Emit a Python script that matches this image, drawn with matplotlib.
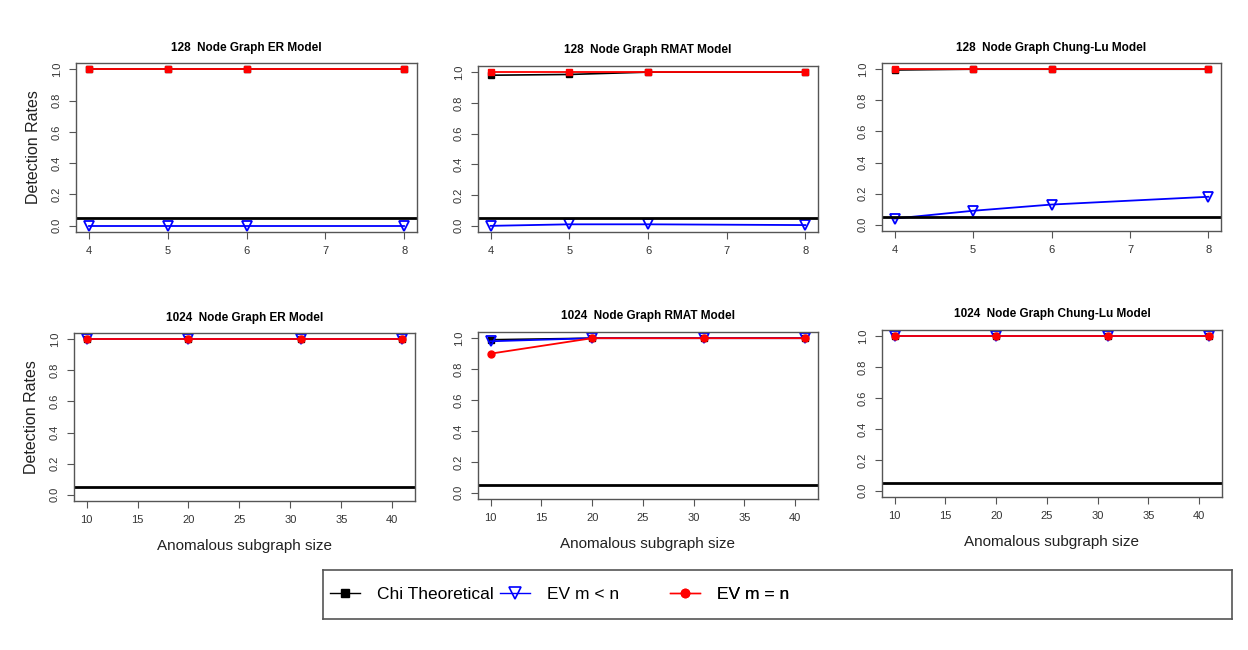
import matplotlib
matplotlib.use("Agg")
import matplotlib.pyplot as plt
from matplotlib.lines import Line2D

plt.rcParams['font.family'] = ['Liberation Sans', 'DejaVu Sans']

# subgraph sizes
x_small = [4, 5, 6, 8]
x_large = [10, 20, 31, 41]

titles = ["128  Node Graph ER Model", "128  Node Graph RMAT Model", "128  Node Graph Chung-Lu Model",
          "1024  Node Graph ER Model", "1024  Node Graph RMAT Model", "1024  Node Graph Chung-Lu Model"]

# detection rates per panel
chi = [[1.0, 1.0, 1.0, 1.0],
       [0.98, 0.985, 1.0, 1.0],
       [0.995, 1.0, 1.0, 1.0],
       [1.0, 1.0, 1.0, 1.0],
       [0.99, 1.0, 1.0, 1.0],
       [1.0, 1.0, 1.0, 1.0]]
ev_less = [[0.0, 0.0, 0.0, 0.0],
           [0.0, 0.01, 0.01, 0.005],
           [0.04, 0.09, 0.13, 0.18],
           [1.0, 1.0, 1.0, 1.0],
           [0.98, 1.0, 1.0, 1.0],
           [1.0, 1.0, 1.0, 1.0]]
ev_equal = [[1.0, 1.0, 1.0, 1.0],
            [1.0, 1.0, 1.0, 1.0],
            [1.0, 1.0, 1.0, 1.0],
            [1.0, 1.0, 1.0, 1.0],
            [0.9, 1.0, 1.0, 1.0],
            [1.0, 1.0, 1.0, 1.0]]
alpha_level = 0.05
legend_labels = ["Chi Theoretical", "EV m < n", "EV m = n"]

W, H = 1248, 650
# panel boxes in pixels: left, right, top, bottom
boxes = [(76, 417, 63, 232), (478, 818, 66, 232), (882, 1221, 63, 231),
         (74, 415, 333, 501), (478, 818, 332, 499), (882, 1222, 330, 497)]

frame_col = "#555555"

fig = plt.figure(figsize=(W / 100, H / 100), dpi=100)

for i, (l, r, t, b) in enumerate(boxes):
    ax = fig.add_axes([l / W, 1 - b / H, (r - l) / W, (b - t) / H])
    xs = x_small if i < 3 else x_large
    red_marker = "s" if i < 3 else "o"

    ax.plot(xs, chi[i], color="black", lw=1.2, marker="s", ms=4.5)
    ax.plot(xs, ev_less[i], color="blue", lw=1.3, marker="v", ms=6.5,
            mfc="none", mec="blue", mew=1.3)
    ax.plot(xs, ev_equal[i], color="red", lw=1.3, marker=red_marker, ms=5)
    ax.axhline(alpha_level, color="black", lw=2)

    span = xs[-1] - xs[0]
    ax.set_xlim(xs[0] - 0.04 * span, xs[-1] + 0.04 * span)
    ax.set_ylim(-0.04, 1.04)
    ax.set_yticks([0.0, 0.2, 0.4, 0.6, 0.8, 1.0])
    ax.set_yticklabels(["0.0", "0.2", "0.4", "0.6", "0.8", "1.0"], rotation=90, va="center")
    if i < 3:
        ax.set_xticks([4, 5, 6, 7, 8])
    else:
        ax.set_xticks([10, 15, 20, 25, 30, 35, 40])

    ax.tick_params(labelsize=8, length=5, width=0.8, color=frame_col, labelcolor="#333333", pad=5)
    for sp in ax.spines.values():
        sp.set_color(frame_col)
        sp.set_linewidth(1.0)

    ax.set_title(titles[i], fontsize=8.5, fontweight="bold", pad=9)
    if i % 3 == 0:
        ax.set_ylabel("Detection Rates", fontsize=11.5, color="#222222", labelpad=8)
    if i >= 3:
        ax.set_xlabel("Anomalous subgraph size", fontsize=11, color="#222222", labelpad=10)

# legend box
lx0, lx1, ly0, ly1 = 323, 1232, 570, 619
lax = fig.add_axes([lx0 / W, 1 - ly1 / H, (lx1 - lx0) / W, (ly1 - ly0) / H])
lax.set_xticks([])
lax.set_yticks([])
for sp in lax.spines.values():
    sp.set_color(frame_col)
    sp.set_linewidth(1.2)

handles = [Line2D([], [], color="black", lw=1.0, marker="s", ms=6),
           Line2D([], [], color="blue", lw=1.0, marker="v", ms=8, mfc="none", mew=1.2),
           Line2D([], [], color="red", lw=1.0, marker="o", ms=6)]
col_starts = [330, 500, 670]
for h, lab, cx in zip(handles, legend_labels, col_starts):
    leg = lax.legend([h], [lab], loc="center left",
                     bbox_to_anchor=((cx - lx0) / (lx1 - lx0), 0.5),
                     frameon=False, fontsize=12.5, handlelength=1.7,
                     handletextpad=1.0, borderaxespad=0, borderpad=0)
    lax.add_artist(leg)

fig.savefig("out.png", dpi=100)
